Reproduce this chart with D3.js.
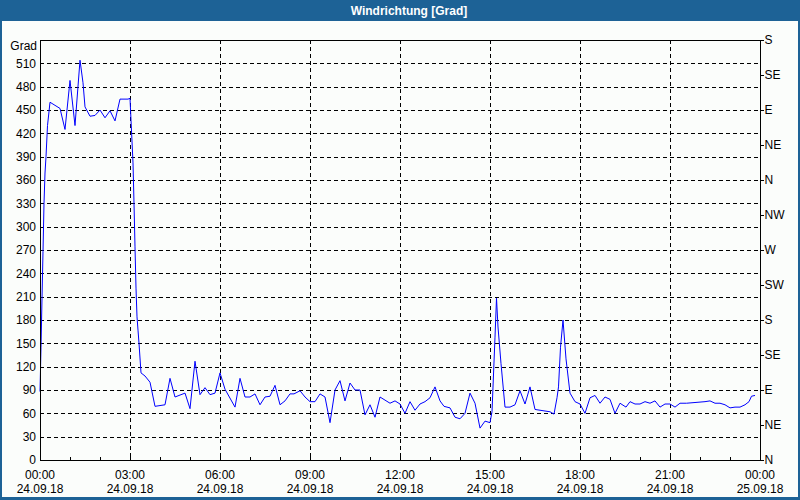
<!DOCTYPE html>
<html>
<head>
<meta charset="utf-8">
<script src="https://cdn.jsdelivr.net/npm/d3@7"></script>
<style>
html,body{margin:0;padding:0;background:#fbfdfb;}
svg{display:block;}
text{font-family:"Liberation Sans",Arial,sans-serif;font-size:12px;fill:#000;}
</style>
</head>
<body>
<svg id="chart" width="800" height="500"></svg>
<script>
const title = "Windrichtung [Grad]";
const yUnit = "Grad";
// minutes since 24.09.18 00:00
const times = [0,2,4,6,8,10,12,15,20,40,50,60,70,80,86,90,100,110,120,130,140,150,160,176,180,182,186,188,190,192,194,196,198,202,210,220,230,250,260,270,290,300,310,320,330,340,350,360,370,390,400,410,420,430,440,450,460,470,480,490,500,508,520,530,540,550,560,570,580,590,600,610,620,630,640,650,660,670,680,690,700,710,720,730,740,750,760,770,780,790,800,808,820,830,840,850,860,870,880,890,900,904,910,913,916,922,930,940,950,960,970,980,990,1000,1010,1020,1028,1034,1037,1041,1046,1052,1060,1070,1080,1090,1100,1110,1120,1130,1140,1150,1160,1172,1180,1190,1200,1210,1220,1230,1240,1250,1260,1270,1280,1293,1330,1340,1350,1360,1370,1380,1390,1400,1410,1418,1423,1430];
const values = [88,145,208,268,330,369,390,430,460,452,425,488,430,514,485,454,442,443,450,440,449,436,464,464,465,437,382,330,274,221,184,167,150,112,108,100,69,71,105,81,86,66,127,84,93,84,86,112,91,68,105,81,81,85,71,81,82,96,71,76,85,85,89,81,75,75,85,81,48,90,102,76,99,90,90,58,71,55,81,77,73,76,72,60,75,64,72,75,80,94,76,69,67,55,53,60,86,73,41,50,48,62,158,208,171,124,68,68,71,89,72,94,65,64,63,62,59,80,94,145,180,130,86,75,72,60,80,83,73,81,78,60,73,68,75,72,72,75,73,76,68,72,72,68,73,73,75,76,73,73,71,67,68,68,71,75,82,83,81];
const leftTicks = [0,30,60,90,120,150,180,210,240,270,300,330,360,390,420,450,480,510];
const rightTickVals = [0,45,90,135,180,225,270,315,360,405,450,495,540];
const rightTickLabels = ["N","NE","E","SE","S","SW","W","NW","N","NE","E","SE","S"];
const xLabelMinutes = [0,180,360,540,720,900,1080,1260,1440];
const xTimeLabels = ["00:00","03:00","06:00","09:00","12:00","15:00","18:00","21:00","00:00"];
const xDateLabels = ["24.09.18","24.09.18","24.09.18","24.09.18","24.09.18","24.09.18","24.09.18","24.09.18","25.09.18"];

const svg = d3.select("#chart");
const L = 40, R = 760, T = 40, B = 460;
const x = d3.scaleLinear().domain([0,1440]).range([L,R]);
const y = d3.scaleLinear().domain([0,540]).range([B,T]);

// window frame
svg.append("rect").attr("x",0).attr("y",0).attr("width",800).attr("height",500).attr("fill","#fbfdfb");
svg.append("rect").attr("x",0).attr("y",0).attr("width",800).attr("height",21).attr("fill","#1d6296");
svg.append("rect").attr("x",0).attr("y",0).attr("width",2).attr("height",500).attr("fill","#1d6296");
svg.append("rect").attr("x",798).attr("y",0).attr("width",2).attr("height",500).attr("fill","#1d6296");
svg.append("rect").attr("x",0).attr("y",497).attr("width",800).attr("height",3).attr("fill","#1d6296");
svg.append("text").attr("x",409).attr("y",15).attr("text-anchor","middle")
  .style("fill","#fff").style("font-weight","bold").style("font-size","12px").text(title);

// grid
const g = svg.append("g").attr("shape-rendering","crispEdges");
g.selectAll(".hg").data(leftTicks.filter(d=>d>0)).join("line")
  .attr("x1",L).attr("x2",R).attr("y1",d=>Math.round(y(d))+0.5).attr("y2",d=>Math.round(y(d))+0.5)
  .attr("stroke","#000").attr("stroke-dasharray","4,3");
g.selectAll(".vg").data(xLabelMinutes.filter(d=>d>0&&d<1440)).join("line")
  .attr("y1",T).attr("y2",B).attr("x1",d=>Math.round(x(d))+0.5).attr("x2",d=>Math.round(x(d))+0.5)
  .attr("stroke","#000").attr("stroke-dasharray","4,3");

// data line
svg.append("path")
  .datum(times.map((t,i)=>[t,values[i]]))
  .attr("fill","none").attr("stroke","#0000ff").attr("stroke-width",1)
  .attr("d", d3.line().x(d=>x(d[0])).y(d=>y(d[1])));

// frame
svg.append("rect").attr("x",L+0.5).attr("y",T+0.5).attr("width",R-L).attr("height",B-T)
  .attr("fill","none").attr("stroke","#000").attr("shape-rendering","crispEdges");

// left axis
const leftAxis = d3.axisLeft(y).tickValues(leftTicks).tickSize(0).tickPadding(4);
const la = svg.append("g").attr("transform",`translate(${L},0)`).call(leftAxis);
la.select(".domain").remove();
la.selectAll("text").style("font-family","'Liberation Sans',Arial,sans-serif").style("font-size","12px");
svg.append("text").attr("x",37).attr("y",50).attr("text-anchor","end").text(yUnit);

// right axis
const rightAxis = d3.axisRight(y).tickValues(rightTickVals).tickSize(3).tickPadding(1)
  .tickFormat((d,i)=>rightTickLabels[i]);
const ra = svg.append("g").attr("transform",`translate(${R+0.5},0)`).attr("shape-rendering","crispEdges").call(rightAxis);
ra.select(".domain").remove();
ra.selectAll("text").style("font-family","'Liberation Sans',Arial,sans-serif").style("font-size","12px");

// bottom axis ticks (inward, hourly)
const hours = d3.range(0,1441,60);
g.selectAll(".bt").data(hours).join("line")
  .attr("x1",d=>Math.round(x(d))+0.5).attr("x2",d=>Math.round(x(d))+0.5)
  .attr("y1",B-3).attr("y2",B).attr("stroke","#000");
const xl = svg.append("g");
xl.selectAll(".t1").data(xLabelMinutes).join("text")
  .attr("x",d=>x(d)).attr("y",479).attr("text-anchor","middle").text((d,i)=>xTimeLabels[i]);
xl.selectAll(".t2").data(xLabelMinutes).join("text")
  .attr("x",d=>x(d)).attr("y",493).attr("text-anchor","middle").text((d,i)=>xDateLabels[i]);
</script>
</body>
</html>
